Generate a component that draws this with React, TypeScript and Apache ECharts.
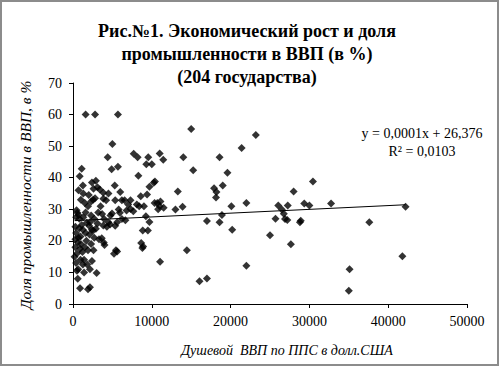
import React, { useEffect, useRef } from "react";
import * as echarts from "echarts";

// Data: GDP per capita (PPP, USD) and industry share of GDP (%)
const gdpPerCapita: number[] = [
  1600, 2800, 5700, 5000, 4400, 4900, 5700, 1100, 850, 7700,
  8200, 9300, 9550, 10000, 11000, 11450, 8300, 15000, 23200, 21400,
  14000, 18600, 15250, 19600, 10400, 13300, 17900, 18200, 19000, 18150,
  20100, 22000, 11000, 11100, 10800, 13000, 13900, 18900, 17000, 18600,
  20200, 25000, 14450, 11050, 22000, 16050, 17000, 30450, 28000, 26050,
  26500, 26750, 26900, 27200, 27250, 25700, 28900, 28800, 29350, 30000,
  32750, 37600, 42200, 41800, 35100, 35000, 27650, 9700, 10250, 1250,
  2400, 2600, 2900, 3100, 3400, 3850, 2550, 2800, 2300, 5300,
  3850, 4200, 5350, 6200, 6550, 7300, 8600, 9400, 10350, 10700,
  8400, 8100, 7300, 7650, 6800, 5800, 5950, 4950, 6200, 6650,
  4750, 3950, 4500, 4700, 5350, 5600, 3850, 4300, 9250, 8850,
  9500, 8650, 8900, 8800, 5200, 5450, 5600, 3900, 4000, 3650,
  2550, 2900, 2400, 2050, 2150, 1750, 1250, 950, 950, 1400,
  1250, 2400, 2150, 3000, 900, 1900, 2150, 650, 450, 550,
  700, 400, 800, 300, 500, 600, 900, 400, 700, 1000,
  1200, 1500, 1700, 1900, 800, 1300, 1600, 1900, 2300, 2700,
  3200, 3500, 3100, 2700, 1400, 1800, 600, 300, 1000, 1300,
  700, 2000, 4500, 6000, 7000, 9000, 11500, 3300, 2100, 1100,
  300, 1600, 2600, 500, 9700, 1500, 3700, 400, 2300, 200,
];
const industryShare: number[] = [
  60, 60, 60, 50.7, 46.5, 42.7, 43.5, 42.8, 40.5, 47.6,
  46.5, 44.3, 46.5, 44.3, 47.7, 45.7, 40.6, 55.4, 53.5, 49.4,
  46.5, 46.5, 42.4, 41.6, 38.8, 35.6, 36.7, 35.5, 37.5, 33.7,
  31, 32, 31, 32.5, 30, 29.9, 30.8, 28.2, 26.3, 25.9,
  23.5, 21.8, 17, 13.4, 12.1, 7.2, 8.1, 38.8, 35.6, 31.2,
  29.9, 28.6, 26.9, 26.6, 31.2, 27, 26.4, 25.9, 31.8, 31.2,
  31.8, 25.9, 30.8, 15.1, 11, 4.2, 18.9, 37.1, 38.4, 37.5,
  38.5, 36.5, 39, 37, 36.3, 35.2, 33, 33.5, 32.5, 37.5,
  33.3, 32.9, 32.9, 32.9, 32.9, 32.9, 34.1, 34.7, 32, 32,
  31, 31.5, 30.1, 29.4, 29.6, 29.9, 28.9, 28.7, 26.9, 26.5,
  28, 26.9, 25.9, 25.2, 24.8, 25.9, 24.9, 24.5, 27.8, 23.3,
  23.3, 19.3, 18.2, 17.7, 15.9, 17, 16.6, 19.5, 18.7, 20.8,
  23.3, 23.8, 23.5, 24.8, 25.9, 25.7, 23.5, 21.4, 14, 14,
  12.5, 13.6, 11, 9.8, 5, 4.7, 5.3, 11, 29.7, 28.9,
  28.2, 27.5, 27, 18, 16, 19.5, 17.5, 13, 21, 19,
  16.5, 18, 20, 17, 24, 27.5, 29, 31, 28, 27,
  29, 31, 25.5, 21, 10, 12.5, 8, 24.5, 33, 35,
  36, 34.5, 35, 35.5, 31.5, 31, 30.5, 20.5, 22, 25,
  20.5, 22.5, 17, 10.5, 26, 32, 28.5, 22.5, 19, 15,
];

const xTicks = [0, 10000, 20000, 30000, 40000, 50000];
const yTicks = [0, 10, 20, 30, 40, 50, 60, 70];

const titleLines = [
  "Рис.№1. Экономический рост и доля",
  "промышленности в ВВП (в %)",
  "(204 государства)",
];
const xAxisTitle = "Душевой  ВВП по ППС в долл.США";
const yAxisTitle = "Доля промышленности в ВВП, в %";
const equationText = "y = 0,0001x + 26,376";
const r2Text = "R² = 0,0103";

// Trend line (linear least squares, as in the reference)
const trendIntercept = 26.376;
const trendSlope = 0.00012;

const SERIF = "Liberation Serif";

export default function App() {
  const ref = useRef<HTMLDivElement>(null);

  useEffect(() => {
    if (!ref.current) return;
    const chart = echarts.init(ref.current, undefined, { renderer: "svg" });
    const points = gdpPerCapita.map((x, i) => [x, industryShare[i]]);
    const xMin = Math.min(...gdpPerCapita);
    const xMax = Math.max(...gdpPerCapita);
    const trend = [
      [xMin, trendIntercept + trendSlope * xMin],
      [xMax, trendIntercept + trendSlope * xMax],
    ];

    const txt = (
      text: string,
      x: number,
      y: number,
      size: number,
      weight: string = "normal",
      style: string = "normal",
      rotation = 0
    ) => ({
      type: "text",
      x,
      y,
      rotation,
      style: {
        text,
        fontFamily: SERIF,
        fontSize: size,
        fontWeight: weight,
        fontStyle: style,
        fill: "#000",
        textAlign: "center",
        textVerticalAlign: "middle",
      },
    });

    chart.setOption({
      animation: false,
      backgroundColor: "#ffffff",
      grid: { left: 73, right: 32, top: 83, bottom: 62 },
      xAxis: {
        type: "value",
        min: xTicks[0],
        max: xTicks[xTicks.length - 1],
        interval: 10000,
        splitLine: { show: false },
        axisLine: { show: true, lineStyle: { color: "#000", width: 1 } },
        axisTick: { show: true, length: 4, lineStyle: { color: "#000" } },
        axisLabel: {
          color: "#000",
          fontFamily: SERIF,
          fontSize: 14,
          margin: 10,
          formatter: (v: number) => String(v),
        },
      },
      yAxis: {
        type: "value",
        min: yTicks[0],
        max: yTicks[yTicks.length - 1],
        interval: 10,
        splitLine: { show: false },
        axisLine: { show: true, lineStyle: { color: "#000", width: 1 } },
        axisTick: { show: true, length: 4, lineStyle: { color: "#000" } },
        axisLabel: {
          color: "#000",
          fontFamily: SERIF,
          fontSize: 14,
          margin: 11,
          formatter: (v: number) => String(v),
        },
      },
      series: [
        {
          type: "scatter",
          data: points,
          symbol: "diamond",
          symbolSize: 8,
          itemStyle: { color: "#000" },
          z: 3,
        },
        {
          type: "line",
          data: trend,
          symbol: "none",
          lineStyle: { color: "#000", width: 1 },
          z: 2,
        },
      ],
      graphic: [
        {
          type: "rect",
          shape: { x: 1, y: 1, width: 497, height: 364 },
          style: { fill: "none", stroke: "#8c8c8c", lineWidth: 2 },
          silent: true,
        },
        ...titleLines.map((t, i) => txt(t, 247, 31 + i * 23, 18, "bold")),
        txt(xAxisTitle, 287, 350, 14, "normal", "italic"),
        txt(yAxisTitle, 25, 195, 15.5, "normal", "italic", Math.PI / 2),
        txt(equationText, 422, 133, 14),
        txt(r2Text, 422, 151, 14),
      ],
    });
    return () => chart.dispose();
  }, []);

  return (
    <div style={{ position: "fixed", left: 0, top: 0, width: 499, height: 366 }}>
      <div ref={ref} style={{ width: 499, height: 366 }} />
    </div>
  );
}
